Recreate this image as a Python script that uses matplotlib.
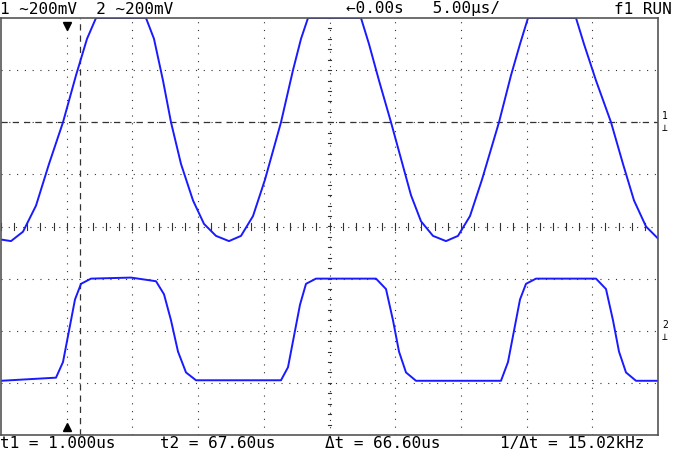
import numpy as np
import matplotlib
matplotlib.use("Agg")
import matplotlib.pyplot as plt

# time samples (screen position in 1/65.7 div units -> converted to us), values in divisions
ch1_pos = [0, 10, 22, 35, 48, 62, 75, 86, 95, 145, 153, 162, 170, 180, 192, 203, 215, 228, 240, 252, 264, 280,
           292, 300, 307, 360, 368, 378, 390, 400, 410, 420, 432, 445, 457, 469, 481, 498, 510, 519, 527,
           575, 583, 595, 610, 622, 633, 645, 658]
ch1_div = [-0.25, -0.28, -0.1, 0.4, 1.2, 2.0, 2.9, 3.6, 4.0, 4.0, 3.6, 2.8, 2.0, 1.2, 0.5, 0.05, -0.18, -0.28, -0.18, 0.2, 0.9, 2.0,
           3.0, 3.6, 4.0, 4.0, 3.5, 2.8, 2.0, 1.3, 0.6, 0.1, -0.18, -0.28, -0.18, 0.2, 0.9, 2.0, 2.9, 3.5, 4.0,
           4.0, 3.5, 2.8, 2.0, 1.2, 0.5, 0.0, -0.25]
ch2_pos = [0, 55, 62, 68, 74, 80, 90, 130, 155, 163, 170, 177, 185, 195, 280, 287, 293, 299, 305, 315,
           375, 385, 392, 398, 405, 415, 500, 507, 513, 519, 525, 535, 595, 605, 612, 618, 625, 635, 658]
ch2_div = [-2.96, -2.9, -2.6, -2.0, -1.4, -1.1, -1.0, -0.98, -1.05, -1.3, -1.8, -2.4, -2.8, -2.95, -2.95, -2.7,
           -2.1, -1.5, -1.1, -1.0, -1.0, -1.2, -1.8, -2.4, -2.8, -2.96, -2.96, -2.6, -2.0, -1.4, -1.1, -1.0,
           -1.0, -1.2, -1.8, -2.4, -2.8, -2.96, -2.96]

PX_PER_DIV = 65.7
US_PER_DIV = 5.0
t1 = np.array(ch1_pos) / PX_PER_DIV * US_PER_DIV
t2 = np.array(ch2_pos) / PX_PER_DIV * US_PER_DIV

fig = plt.figure(figsize=(6.74, 4.52), dpi=100)
ax = fig.add_axes([1/674, 16/452, 657/674, 417/452])
ax.set_xlim(0, 50)
ax.set_ylim(-4, 4)
ax.set_xticks([]); ax.set_yticks([])
for s in ax.spines.values():
    s.set_color('#555555'); s.set_linewidth(1.2)

gc = '#333333'
for i in range(1, 10):
    if i == 5:
        continue
    ax.axvline(i * 5, color=gc, lw=0.8, ls=(0, (1, 6)))
for j in range(-3, 4):
    if j == 0:
        continue
    ax.axhline(j, color=gc, lw=0.8, ls=(0, (1, 6)))
ax.axhline(0, color=gc, lw=0.8, ls=(0, (1, 5.5)))
ax.axvline(25, color=gc, lw=0.8, ls=(0, (1, 5.5)))
for k in np.arange(0, 50.01, 1.0):
    ax.plot([k, k], [-0.06, 0.06], color=gc, lw=0.8)
for k in np.arange(-4, 4.01, 0.2):
    ax.plot([24.85, 25.15], [k, k], color=gc, lw=0.8)
ax.axhline(2.0, color=gc, lw=0.9, ls=(0, (5, 4)))
ax.axvline(5 + 1.0, color=gc, lw=0.9, ls=(0, (5, 4)))
ax.plot([5], [3.85], marker='v', color='black', ms=6)
ax.plot([5], [-3.85], marker='^', color='black', ms=6)

ax.plot(t1, ch1_div, color='#1a1aff', lw=1.4)
ax.plot(t2, ch2_div, color='#1a1aff', lw=1.4)

fs = 11.5
ff = ['DejaVu Sans Mono', 'DejaVu Sans']
fig.text(0.0, 1 - 9/452, "1 ~200mV  2 ~200mV", fontsize=fs, family=ff, va='center')
fig.text(500/674, 1 - 9/452, "←0.00s   5.00µs/", fontsize=fs, family=ff, va='center', ha='right')
fig.text(672/674, 1 - 9/452, "f1 RUN", fontsize=fs, family=ff, va='center', ha='right')
fig.text(0.0, 8/452, "t1 = 1.000us", fontsize=fs, family=ff, va='center')
fig.text(160/674, 8/452, "t2 = 67.60us", fontsize=fs, family=ff, va='center')
fig.text(325/674, 8/452, "Δt = 66.60us", fontsize=fs, family=ff, va='center')
fig.text(500/674, 8/452, "1/Δt = 15.02kHz", fontsize=fs, family=ff, va='center')
fig.text(662/674, 1 - 122/452, "1\n⊥", fontsize=7, family=ff, va='center')
fig.text(662/674, 1 - 331/452, "2\n⊥", fontsize=7, family=ff, va='center')
fig.savefig("out.png", dpi=100)
